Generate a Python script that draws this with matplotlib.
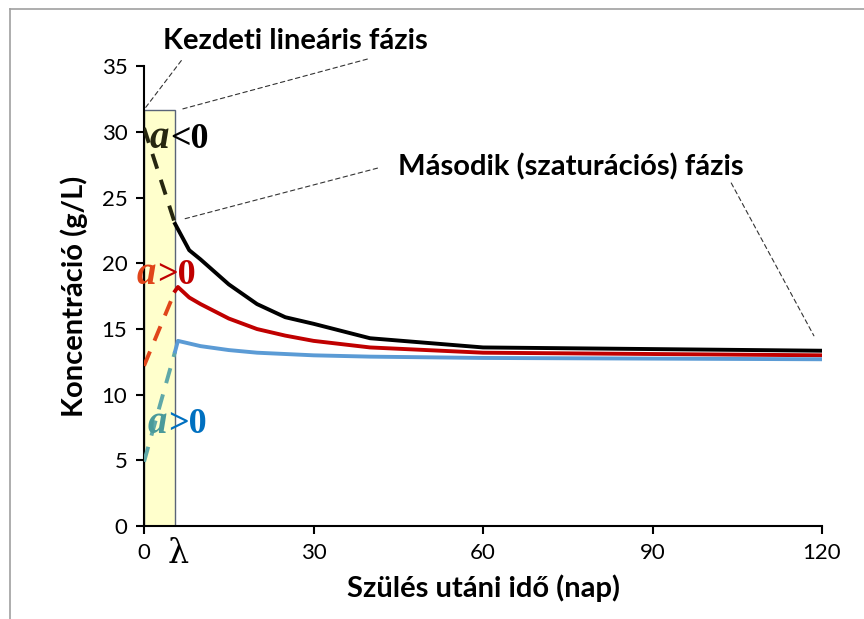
# Koncentráció a szülés után - lineáris + szaturációs fázis
import numpy as np
import matplotlib.pyplot as plt
from matplotlib.patches import Rectangle
from matplotlib.lines import Line2D

lam = 5.5          # lineáris fázis vége (nap)
box_top = 31.7

# szaturációs fázis (folytonos vonalak)
days_black = [5.5, 8, 10, 15, 20, 25, 30, 40, 60, 120]
conc_black = [23.0, 21.0, 20.3, 18.4, 16.9, 15.9, 15.4, 14.3, 13.6, 13.35]

days_red = [5.5, 6, 8, 10, 15, 20, 25, 30, 40, 60, 120]
conc_red = [17.9, 18.2, 17.4, 16.9, 15.8, 15.0, 14.5, 14.1, 13.6, 13.2, 13.0]

days_blue = [5.5, 6, 8, 10, 15, 20, 30, 40, 60, 120]
conc_blue = [13.3, 14.1, 13.9, 13.7, 13.4, 13.2, 13.0, 12.9, 12.8, 12.7]

# lineáris fázis (szaggatott)
lin_days = [0, 5.5]
lin_black = [30.3, 23.0]
lin_red = [12.2, 17.9]
lin_blue = [4.9, 13.3]

xticks = [0, 30, 60, 90, 120]
yticks = [0, 5, 10, 15, 20, 25, 30, 35]

plt.rcParams['font.family'] = ['Lato', 'DejaVu Sans']

fig = plt.figure(figsize=(8.64, 6.19), dpi=100)
ax = fig.add_axes([0.1667, 0.150, 0.7847, 0.743])

# keret (felső és bal szél)
fig.add_artist(Line2D([10/864, 1], [1 - 9/619, 1 - 9/619], color='#a0a0a0', lw=1.2))
fig.add_artist(Line2D([10/864, 10/864], [0, 1 - 9/619], color='#a0a0a0', lw=1.2))

ax.add_patch(Rectangle((0, 0), lam, box_top, facecolor='#FFFFCC',
                       edgecolor='#5a6478', linewidth=1, zorder=1))

ax.plot(lin_days, lin_black, color='#262610', lw=2.8, ls=(0, (4, 3)), zorder=3)
ax.plot(lin_days, lin_red, color='#E0451A', lw=2.8, ls=(0, (4, 3)), zorder=3)
ax.plot(lin_days, lin_blue, color='#5FA8A8', lw=2.8, ls=(0, (4, 3)), zorder=3)

ax.plot(days_black, conc_black, color='black', lw=2.8, zorder=4)
ax.plot(days_red, conc_red, color='#C00000', lw=2.8, zorder=4)
ax.plot(days_blue, conc_blue, color='#5B9BD5', lw=2.8, zorder=4)

ax.set_xlim(0, 120)
ax.set_ylim(0, 35)
ax.set_xticks(xticks)
ax.set_yticks(yticks)
ax.tick_params(labelsize=16, length=6, width=1.5, direction='out', pad=6)
for s in ['top', 'right']:
    ax.spines[s].set_visible(False)
for s in ['left', 'bottom']:
    ax.spines[s].set_linewidth(1.5)

ax.set_xlabel('Szülés utáni idő (nap)', fontsize=21, fontweight='bold', labelpad=8)
ax.set_ylabel('Koncentráció (g/L)', fontsize=21, fontweight='bold', labelpad=10)

# lambda a tengelyen
ax.text(lam + 0.6, -0.9, 'λ', fontsize=24, family='DejaVu Serif',
        ha='center', va='top')

# a<0, a>0 feliratok
serif = 'Liberation Serif'
ax.text(0.9, 28.8, 'a', fontsize=28, color='#262610', family=serif,
        style='italic', fontweight='bold')
ax.text(4.6, 28.8, '<0', fontsize=26, color='black', fontweight='bold', family=serif)
ax.text(-1.4, 18.4, 'a', fontsize=28, color='#E0451A', family=serif,
        style='italic', fontweight='bold')
ax.text(2.3, 18.4, '>0', fontsize=26, color='#C00000', fontweight='bold', family=serif)
ax.text(0.6, 7.1, 'a', fontsize=28, color='#4A9A9A', family=serif,
        style='italic', fontweight='bold')
ax.text(4.3, 7.1, '>0', fontsize=26, color='#0070C0', fontweight='bold', family=serif)

# fázis feliratok + vezetővonalak
ax.text(3.3, 35.9, 'Kezdeti lineáris fázis', fontsize=21, fontweight='bold',
        ha='left', va='bottom', clip_on=False)
ax.text(45, 26.3, 'Második (szaturációs) fázis', fontsize=21, fontweight='bold',
        ha='left', va='bottom', clip_on=False)

lead = dict(arrowstyle='-', linestyle=(0, (4, 3)), color='#333333', lw=0.8)
ax.annotate('', xy=(0, box_top), xytext=(6.9, 35.6), arrowprops=lead, annotation_clip=False)
ax.annotate('', xy=(6.4, box_top), xytext=(40, 35.6), arrowprops=lead, annotation_clip=False)
ax.annotate('', xy=(6.4, 23.3), xytext=(41.8, 27.3), arrowprops=lead, annotation_clip=False)
ax.annotate('', xy=(118.8, 14.3), xytext=(103.7, 26.3), arrowprops=lead, annotation_clip=False)

fig.savefig('out.png', dpi=100)
